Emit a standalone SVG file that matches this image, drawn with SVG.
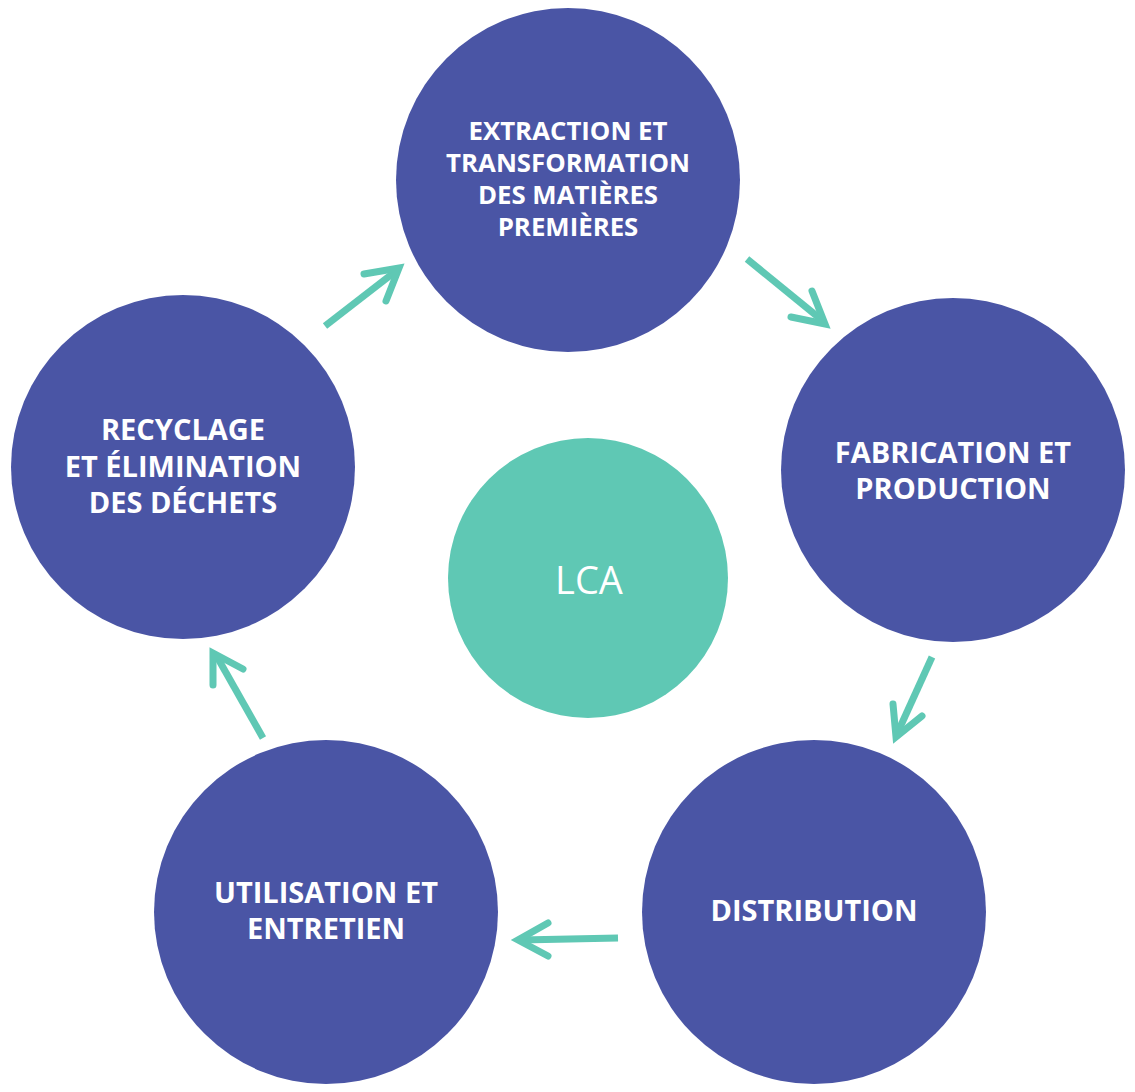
<svg xmlns="http://www.w3.org/2000/svg" width="1135" height="1092" viewBox="0 0 1135 1092">
<style>
.stage{fill:#4a55a5}
.core{fill:#5fc8b4}
.lbl{fill:#ffffff;font-family:"Open Sans","Noto Sans",sans-serif;font-weight:700;font-size:29px;text-anchor:middle}
.lbl.sm{font-size:25.8px}
.lca{fill:#ffffff;font-family:"Open Sans","Noto Sans",sans-serif;font-weight:400;font-size:38px;text-anchor:middle}
.shaft{stroke:#5fc8b4;stroke-width:7;fill:none;stroke-linecap:butt}
.head{stroke:#5fc8b4;stroke-width:7;fill:none;stroke-linecap:round;stroke-linejoin:miter;stroke-miterlimit:10}
</style>
<rect width="1135" height="1092" fill="#ffffff"/>
<g id="connectors">
<line class="shaft" x1="325" y1="326" x2="396" y2="271"/>
<polyline class="head" points="364,274 399,268 386,301"/>
<line class="shaft" x1="747" y1="259" x2="823" y2="321"/>
<polyline class="head" points="812,291 825,324 791,317"/>
<line class="shaft" x1="932" y1="657" x2="897" y2="734"/>
<polyline class="head" points="893,704 896,737 922,716"/>
<line class="shaft" x1="618" y1="938" x2="521" y2="940"/>
<polyline class="head" points="548,923 518,940 548,956"/>
<line class="shaft" x1="263" y1="738" x2="216" y2="655"/>
<polyline class="head" points="213,685 213,653 243,669"/>
</g>
<g id="node-extraction">
<circle class="stage" cx="568" cy="180" r="172"/>
<text class="lbl sm" x="568" y="140">EXTRACTION ET</text>
<text class="lbl sm" x="568" y="172">TRANSFORMATION</text>
<text class="lbl sm" x="568" y="204">DES MATIÈRES</text>
<text class="lbl sm" x="568" y="236">PREMIÈRES</text>
</g>
<g id="node-fabrication">
<circle class="stage" cx="953" cy="470" r="172"/>
<text class="lbl" x="953" y="463">FABRICATION ET</text>
<text class="lbl" x="953" y="499">PRODUCTION</text>
</g>
<g id="node-distribution">
<circle class="stage" cx="814" cy="912" r="172"/>
<text class="lbl" x="814" y="921">DISTRIBUTION</text>
</g>
<g id="node-utilisation">
<circle class="stage" cx="326" cy="912" r="172"/>
<text class="lbl" x="326" y="903">UTILISATION ET</text>
<text class="lbl" x="326" y="939">ENTRETIEN</text>
</g>
<g id="node-recyclage">
<circle class="stage" cx="183" cy="467" r="172"/>
<text class="lbl" x="183" y="440">RECYCLAGE</text>
<text class="lbl" x="183" y="477">ET ÉLIMINATION</text>
<text class="lbl" x="183" y="513">DES DÉCHETS</text>
</g>
<g id="node-lca">
<circle class="core" cx="588" cy="578" r="140"/>
<text class="lca" x="589" y="594">LCA</text>
</g>
</svg>
